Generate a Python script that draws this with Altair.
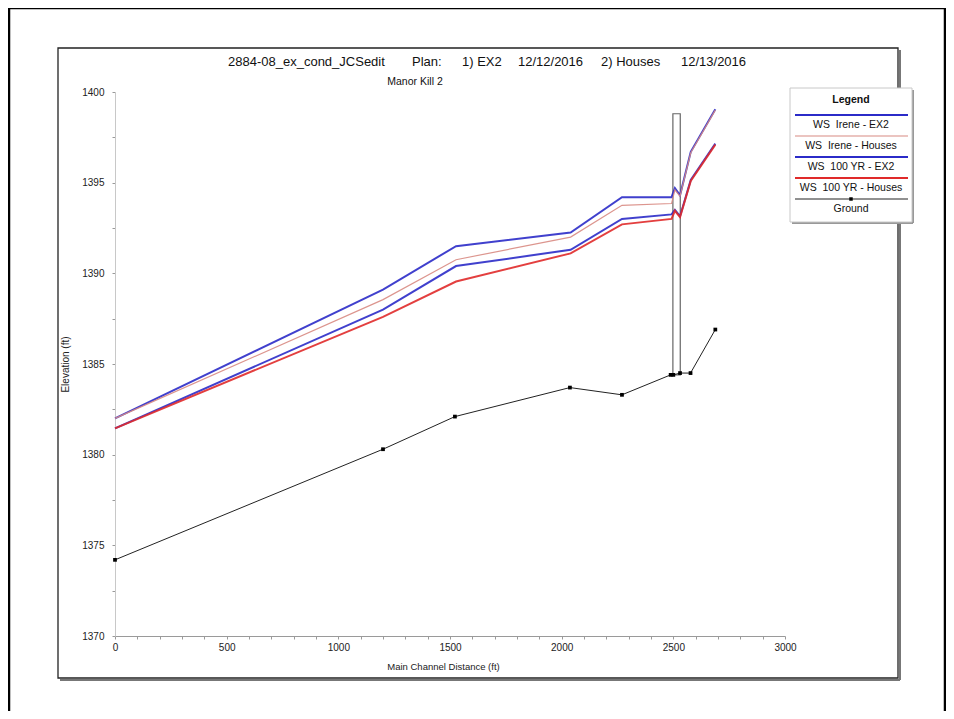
import altair as alt
import pandas as pd

FONT = "Liberation Sans, Arial, sans-serif"

# ---------------- data ----------------
ws_station = [0, 1200, 1527, 2040, 2270, 2492, 2507, 2530, 2578, 2688]
ws_irene_ex2 = [1382.0, 1389.1, 1391.5, 1392.25, 1394.2, 1394.2, 1394.7, 1394.3, 1396.7, 1399.05]
ws_irene_houses = [1382.0, 1388.55, 1390.75, 1392.0, 1393.75, 1393.85, 1394.6, 1394.25, 1396.65, 1399.0]
ws_100yr_ex2 = [1381.45, 1388.0, 1390.4, 1391.3, 1393.0, 1393.25, 1393.5, 1393.15, 1395.15, 1397.15]
ws_100yr_houses = [1381.45, 1387.6, 1389.55, 1391.1, 1392.7, 1393.0, 1393.45, 1393.1, 1395.1, 1397.1]

ground_station = [0, 1200, 1522, 2037, 2270, 2488, 2500, 2530, 2577, 2688]
ground_elev = [1374.2, 1380.3, 1382.1, 1383.7, 1383.3, 1384.4, 1384.4, 1384.5, 1384.5, 1386.9]

series_names = ["WS  Irene - EX2", "WS  Irene - Houses", "WS  100 YR - EX2", "WS  100 YR - Houses"]
series_values = [ws_irene_ex2, ws_irene_houses, ws_100yr_ex2, ws_100yr_houses]
series_colors = ["#2b2bc8", "#d88a82", "#2b2bc8", "#e02a2a"]
series_widths = [2.0, 1.2, 2.0, 2.0]
draw_order = [0, 2, 1, 3]

bridge_station = [2498, 2531]
bridge_elev = [1384.4, 1398.8]

title_parts = ["2884-08_ex_cond_JCSedit", "Plan:", "1) EX2", "12/12/2016", "2) Houses", "12/13/2016"]
title_x = [113, 297, 347, 403, 486, 566]
subtitle = "Manor Kill 2"

W, H = 670, 544
PAD_L, PAD_T = 107, 84
PAD_R = 938 - PAD_L - W
PAD_B = 703 - PAD_T - H

xs = alt.Scale(domain=[0, 3000], nice=False, zero=False)
ys = alt.Scale(domain=[1370, 1400], nice=False, zero=False)

x_axis = alt.Axis(values=list(range(0, 3001, 100)),
                  labelExpr="datum.value % 500 == 0 ? datum.label : ''",
                  format="d", tickSize=3, labelPadding=3, grid=False,
                  labelOverlap=False, labelFlush=False,
                  domainColor="#9a9a9a", tickColor="#9a9a9a",
                  labelFont=FONT, labelFontSize=10, labelColor="#222",
                  titleFont=FONT, titleFontSize=9.5, titleFontWeight="normal",
                  titleColor="#222", titleX=328, titleY=25)
y_axis = alt.Axis(values=[1370 + 2.5 * i for i in range(13)],
                  labelExpr="datum.value % 5 == 0 ? datum.label : ''",
                  format="d", tickSize=3, labelPadding=8, grid=False,
                  labelOverlap=False, labelFlush=False,
                  domainColor="#c8c8c8", tickColor="#9a9a9a",
                  labelFont=FONT, labelFontSize=10, labelColor="#222",
                  titleFont=FONT, titleFontSize=10, titleFontWeight="normal",
                  titleColor="#222", titleX=-45, titleY=272, titleAngle=-90,
                  titleBaseline="bottom", titleAlign="center")

X = alt.X("station:Q", scale=xs, axis=x_axis, title="Main Channel Distance (ft)")
Y = alt.Y("elev:Q", scale=ys, axis=y_axis, title="Elevation (ft)")

one = pd.DataFrame({"k": [0]})
layers = []

# page frames (decoration)
outer_lines = [(-106, -84, -106, 619), (-106, -84, 830, -84), (830, -84, 830, 619)]
for x1, y1, x2, y2 in outer_lines:
    layers.append(alt.Chart(one).mark_rule(color="black", strokeWidth=2.5).encode(
        x=alt.value(x1), y=alt.value(y1), x2=alt.value(x2), y2=alt.value(y2)))
layers.append(alt.Chart(one).mark_rule(color="#777", strokeWidth=2).encode(
    x=alt.value(-55), y=alt.value(588), x2=alt.value(785), y2=alt.value(588)))
layers.append(alt.Chart(one).mark_rule(color="#777", strokeWidth=2).encode(
    x=alt.value(785), y=alt.value(-42), x2=alt.value(785), y2=alt.value(588)))
layers.append(alt.Chart(one).mark_rect(fillOpacity=0, stroke="#222", strokeWidth=1.3).encode(
    x=alt.value(-57), x2=alt.value(783), y=alt.value(-44), y2=alt.value(586)))

# titles
for part, px in zip(title_parts, title_x):
    layers.append(alt.Chart(pd.DataFrame({"t": [part]})).mark_text(
        font=FONT, fontSize=13, align="left", baseline="middle", color="#111").encode(
        text="t:N", x=alt.value(px), y=alt.value(-30)))
layers.append(alt.Chart(pd.DataFrame({"t": [subtitle]})).mark_text(
    font=FONT, fontSize=10.5, align="center", baseline="middle", color="#111").encode(
    text="t:N", x=alt.value(300), y=alt.value(-10)))

# bridge
bdf = pd.DataFrame({"station": [bridge_station[0]], "station2": [bridge_station[1]],
                    "elev": [bridge_elev[0]], "elev2": [bridge_elev[1]]})
layers.append(alt.Chart(bdf).mark_rect(fillOpacity=0, stroke="#666", strokeWidth=1.2).encode(
    x=X, x2="station2:Q", y=Y, y2="elev2:Q"))

# ground
gdf = pd.DataFrame({"station": ground_station, "elev": ground_elev})
layers.append(alt.Chart(gdf).mark_line(color="#222", strokeWidth=1).encode(x=X, y=Y))
layers.append(alt.Chart(gdf).mark_square(color="black", size=14, opacity=1).encode(x=X, y=Y))

# water surfaces
for i in draw_order:
    df = pd.DataFrame({"station": ws_station, "elev": series_values[i]})
    layers.append(alt.Chart(df).mark_line(color=series_colors[i], strokeWidth=series_widths[i],
                                          opacity=0.9).encode(x=X, y=Y))

# legend (decoration)
LX1, LX2, LY1, LY2 = 675, 797, -4, 130
layers.append(alt.Chart(one).mark_rule(color="#999", strokeWidth=2).encode(
    x=alt.value(LX1 + 2), y=alt.value(LY2 + 1), x2=alt.value(LX2 + 1), y2=alt.value(LY2 + 1)))
layers.append(alt.Chart(one).mark_rule(color="#999", strokeWidth=2).encode(
    x=alt.value(LX2 + 1), y=alt.value(LY1 + 2), x2=alt.value(LX2 + 1), y2=alt.value(LY2 + 1)))
layers.append(alt.Chart(one).mark_rect(fill="white", stroke="#c8c8c8", strokeWidth=1).encode(
    x=alt.value(LX1), x2=alt.value(LX2), y=alt.value(LY1), y2=alt.value(LY2)))
layers.append(alt.Chart(pd.DataFrame({"t": ["Legend"]})).mark_text(
    font=FONT, fontSize=10.5, fontWeight="bold", align="center", baseline="middle", color="#111").encode(
    text="t:N", x=alt.value(736), y=alt.value(8)))
leg_names = series_names + ["Ground"]
leg_colors = series_colors + ["#222"]
leg_widths = series_widths + [1.0]
for j, (nm, col, wd) in enumerate(zip(leg_names, leg_colors, leg_widths)):
    ly = 23 + j * 21
    layers.append(alt.Chart(one).mark_rule(color=col, strokeWidth=wd).encode(
        x=alt.value(680), x2=alt.value(793), y=alt.value(ly), y2=alt.value(ly)))
    layers.append(alt.Chart(pd.DataFrame({"t": [nm.replace("  ", "\u00a0 ")]})).mark_text(
        font=FONT, fontSize=10.5, align="center", baseline="middle", color="#111").encode(
        text="t:N", x=alt.value(736), y=alt.value(ly + 10)))
layers.append(alt.Chart(one).mark_square(color="black", size=12, opacity=1).encode(
    x=alt.value(736), y=alt.value(23 + 4 * 21)))

chart = alt.layer(*layers).properties(
    width=W, height=H,
    autosize=alt.AutoSizeParams(type="none"),
    padding={"left": PAD_L, "top": PAD_T, "right": PAD_R, "bottom": PAD_B},
    background="white",
).configure_view(stroke=None)

chart.save("out.html", embed_options={"renderer": "svg", "actions": False})
